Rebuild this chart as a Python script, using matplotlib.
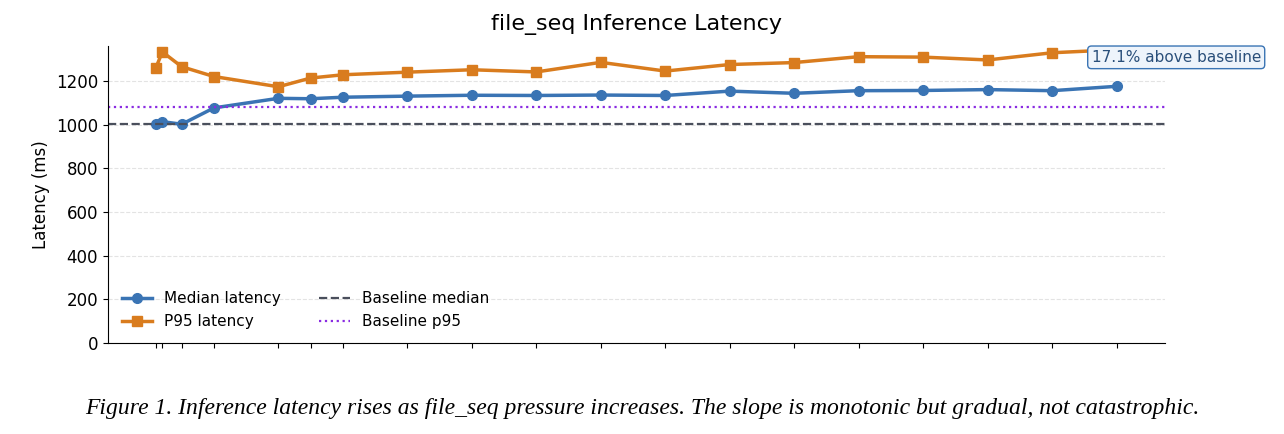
import matplotlib
matplotlib.use("Agg")
import matplotlib.pyplot as plt

x = [1, 2, 5, 10, 20, 25, 30, 40, 50, 60, 70, 80, 90, 100, 110, 120, 130, 140, 150]
median = [1005, 1015, 1003, 1078, 1122, 1120, 1127, 1132, 1136, 1135, 1137, 1135, 1155, 1145, 1157, 1158, 1162, 1157, 1177]
p95 = [1262, 1335, 1267, 1222, 1175, 1215, 1230, 1242, 1253, 1243, 1287, 1247, 1277, 1286, 1313, 1311, 1298, 1331, 1345]
base_median = 1005
base_p95 = 1083

fig = plt.figure(figsize=(12.84, 4.34), dpi=100)
ax = fig.add_axes([0.084, 0.21, 0.823, 0.683])
ax.plot(x, median, marker='o', color='#3a74b4', lw=2.5, ms=7, label='Median latency')
ax.plot(x, p95, marker='s', color='#d97c1e', lw=2.5, ms=7, label='P95 latency')
ax.axhline(base_median, color='#4a4f5c', ls='--', lw=1.6, label='Baseline median')
ax.axhline(base_p95, color='#8a2be2', ls=':', lw=1.6, label='Baseline p95')
ax.set_ylim(0, 1360)
ax.set_xticks(x)
ax.set_xticklabels([])
ax.set_ylabel('Latency (ms)', fontsize=12)
ax.tick_params(labelsize=12)
ax.grid(axis='y', ls='--', alpha=0.35)
ax.spines['top'].set_visible(False)
ax.spines['right'].set_visible(False)
ax.set_title('file_seq Inference Latency', fontsize=16, pad=12)
ax.legend(ncol=2, frameon=False, loc='lower left', fontsize=11, columnspacing=2.5)
ax.annotate('17.1% above baseline', xy=(150, 1345), xytext=(1.011, 1310), textcoords=('axes fraction', 'data'),
            ha='center', va='center', fontsize=11, color='#2a4f7a',
            bbox=dict(boxstyle='round,pad=0.25', fc='#eef4fb', ec='#3a74b4'))
fig.text(0.5, 0.045, 'Figure 1. Inference latency rises as file_seq pressure increases. The slope is monotonic but gradual, not catastrophic.',
         ha='center', fontsize=17, style='italic', family='Liberation Serif')
fig.savefig('out.png', dpi=100)
